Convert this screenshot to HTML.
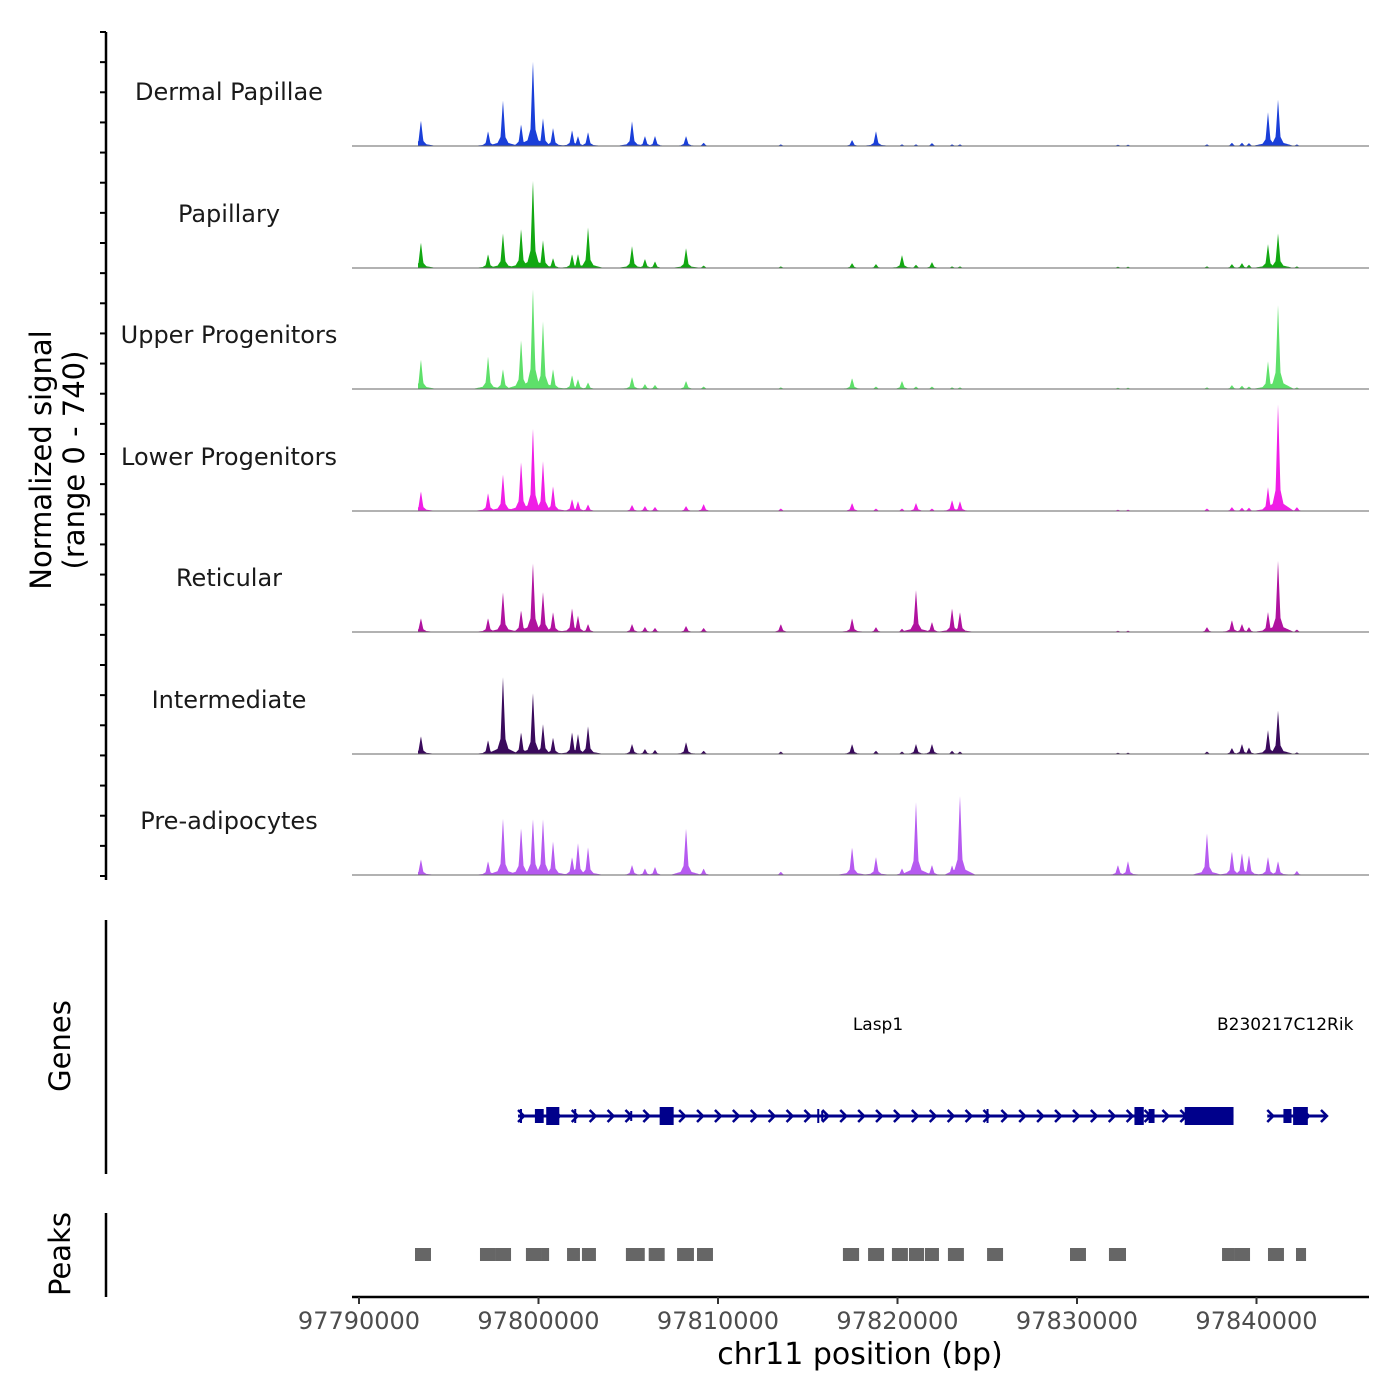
<!DOCTYPE html>
<html><head><meta charset="utf-8"><style>
body{margin:0;background:#fff}
svg{display:block;font-family:"DejaVu Sans","Liberation Sans",sans-serif}
</style></head><body>
<svg id="chart" width="1400" height="1400" viewBox="0 0 1400 1400" xmlns="http://www.w3.org/2000/svg"></svg>
<script>
const trackNames=["Dermal Papillae","Papillary","Upper Progenitors","Lower Progenitors","Reticular","Intermediate","Pre-adipocytes"];
const trackColors=["#1a3fd9","#12a812","#5ee06a","#f01ee6","#b0129f","#3a0a5c","#b65af0"];
const peakPos=[97793450,97797190,97798020,97799030,97799690,97800250,97800810,97801870,97802200,97802760,97805210,97805930,97806490,97808220,97809200,97813500,97817470,97818800,97820250,97821030,97821920,97823040,97823480,97832280,97832840,97837240,97838630,97839190,97839580,97840640,97841200,97842250];
const dermal=[158,91,280,134,524,170,110,97,60,85,152,61,61,61,20,10,37,91,10,10,18,10,10,8,8,10,20,20,18,207,286,10];
const papillary=[158,85,213,243,542,170,60,85,85,250,134,55,40,122,15,10,30,24,79,20,36,10,10,8,8,10,24,30,20,146,213,10];
const upper=[183,201,122,305,621,414,122,85,60,40,73,30,25,49,15,10,67,15,49,15,15,10,10,8,8,10,24,20,15,170,518,10];
const lower=[122,110,225,305,512,305,152,73,60,40,37,30,25,30,43,15,49,15,15,49,15,67,60,8,8,15,24,20,20,146,658,24];
const reticular=[85,85,244,134,426,244,122,146,100,49,49,30,25,37,25,49,85,30,20,256,61,146,122,8,8,30,73,49,30,122,439,15];
const intermediate=[110,85,475,134,378,183,100,134,122,171,61,30,25,73,20,15,61,20,15,61,61,20,15,8,8,15,37,61,40,146,268,10];
const preadip=[97,85,347,292,347,341,207,110,195,171,61,40,49,286,40,20,171,110,40,445,61,60,487,61,85,256,146,134,120,110,85,25];
const trackData=[dermal,papillary,upper,lower,reticular,intermediate,preadip];
const xTicks=[97790000,97800000,97810000,97820000,97830000,97840000];
const peakStarts=[97793120,97796740,97797630,97799300,97800140,97801590,97802420,97804870,97806140,97807720,97808830,97816960,97818360,97819690,97820640,97821530,97822810,97824990,97829610,97831780,97838080,97838800,97840640,97842200];
const peakEnds=[97794010,97797630,97798470,97800140,97800590,97802310,97803200,97805920,97807030,97808660,97809720,97817860,97819250,97820580,97821480,97822310,97823700,97825880,97830500,97832730,97838800,97839640,97841530,97842760];
const geneNames=["Lasp1","B230217C12Rik"];
const geneStarts=[97798860,97840600];
const geneEnds=[97838720,97843900];
const exonStarts=[97798970,97799800,97800430,97801990,97805110,97806750,97815530,97815750,97824960,97833200,97833990,97836000,97841500,97842040];
const exonEnds=[97799080,97800290,97801160,97802060,97805170,97807530,97815590,97815810,97825020,97833720,97834320,97838720,97841950,97842860];
const exonHeights=[14,14,18,14,10,18,14,10,14,18,14,18,14,18];

const NS="http://www.w3.org/2000/svg";
const svg=document.getElementById('chart');
function el(tag,attrs,parent){const e=document.createElementNS(NS,tag);for(const k in attrs)e.setAttribute(k,attrs[k]);(parent||svg).appendChild(e);return e;}
const X0=97790000,PX0=359,SCALE=0.01795;
function xs(bp){return PX0+(bp-X0)*SCALE;}
const YMAX=740,TH=121.5;
const baselines=[146,268,389,511,632,754,875];
function ys(v,i){return baselines[i]-v/YMAX*TH;}

let a=el('line',{x1:106,y1:32,x2:106,y2:880,stroke:'#000','stroke-width':2.5});

for(let k=0;k<29;k++){const y=32+k*(876-32)/28;const t=el('line',{x1:100,y1:y,x2:106,y2:y,stroke:'#000','stroke-width':2});}
let yt=el('text',{transform:'translate(51,460) rotate(-90)','text-anchor':'middle','font-size':29,fill:'#000'});

el('tspan',{x:0,dy:0},yt).textContent='Normalized signal';
el('tspan',{x:0,dy:33},yt).textContent='(range 0 - 740)';

trackData.forEach((vals,i)=>{
  const g=el('g',{});
  
  
  const xa=418,xb=1326;let d='M'+xa+','+baselines[i];
  for(let px=xa;px<=xb;px+=0.5){
    let h=0;
    for(let j=0;j<peakPos.length;j++){
      const dx=Math.abs(px-xs(peakPos[j]));
      const v=vals[j];
      const spike=v*Math.max(0,1-dx/3);
      const sh=v*0.3*Math.max(0,1-dx/7);
      const base=v*0.1*Math.max(0,1-dx/16);
      h=Math.max(h,spike,sh,base);
    }
    h=Math.max(h,3);
    d+=' L'+px+','+ys(h,i).toFixed(2);
  }
  d+=' L'+xb+','+baselines[i]+' Z';
  const p=el('path',{d:d,fill:trackColors[i]},g);
  
  const bl=el('line',{x1:352,y1:baselines[i],x2:1369,y2:baselines[i],stroke:'#666','stroke-width':1},g);
  
  const lb=el('text',{x:229,y:baselines[i]-46,'text-anchor':'middle','font-size':24,fill:'#1a1a1a'},g);
  
  lb.textContent=trackNames[i];
});

let ga=el('line',{x1:106,y1:920,x2:106,y2:1174,stroke:'#000','stroke-width':2.5});

let gt=el('text',{transform:'translate(70,1046) rotate(-90)','text-anchor':'middle','font-size':29});
gt.textContent='Genes';
const GY=1116;
geneNames.forEach((n,i)=>{
  const x1=xs(geneStarts[i]),x2=xs(geneEnds[i]);
  const ln=el('line',{x1:x1,y1:GY,x2:x2,y2:GY,stroke:'#00008b','stroke-width':3});
  
  for(let x=x1+4;x<=x2;x+=17.9){
    const c=el('path',{d:`M${x-4},${GY-6} L${x+2},${GY} L${x-4},${GY+6}`,fill:'none',stroke:'#00008b','stroke-width':2.5});
    
  }
  const lt=el('text',{x:i==0?878:1217,y:1030,'text-anchor':i==0?'middle':'start','font-size':17,fill:'#000'});
  lt.textContent=n;
});
exonStarts.forEach((s,i)=>{
  const x1=xs(s),x2=xs(exonEnds[i]),h=exonHeights[i];
  const r=el('rect',{x:x1,y:GY-h/2,width:Math.max(2,x2-x1),height:h,fill:'#00008b'});
  
});
el('rect',{x:1369,y:1000,width:31,height:40,fill:'#fff'});

let pa=el('line',{x1:106,y1:1213,x2:106,y2:1297,stroke:'#000','stroke-width':2.5});

let pt=el('text',{transform:'translate(70,1254) rotate(-90)','text-anchor':'middle','font-size':29});
pt.textContent='Peaks';
peakStarts.forEach((s,i)=>{
  const r=el('rect',{x:xs(s),y:1248,width:xs(peakEnds[i])-xs(s),height:13,fill:'#666'});
  
});

let xa=el('line',{x1:352,y1:1297,x2:1369,y2:1297,stroke:'#000','stroke-width':2.5});

xTicks.forEach(t=>{
  const tk=el('line',{x1:xs(t),y1:1297,x2:xs(t),y2:1304,stroke:'#333','stroke-width':2});
  
  const tl=el('text',{x:xs(t),y:1329,'text-anchor':'middle','font-size':24,fill:'#4d4d4d'});
  tl.textContent=t;
});
let xt=el('text',{x:860,y:1364,'text-anchor':'middle','font-size':30});
xt.textContent='chr11 position (bp)';
</script>
</body></html>
